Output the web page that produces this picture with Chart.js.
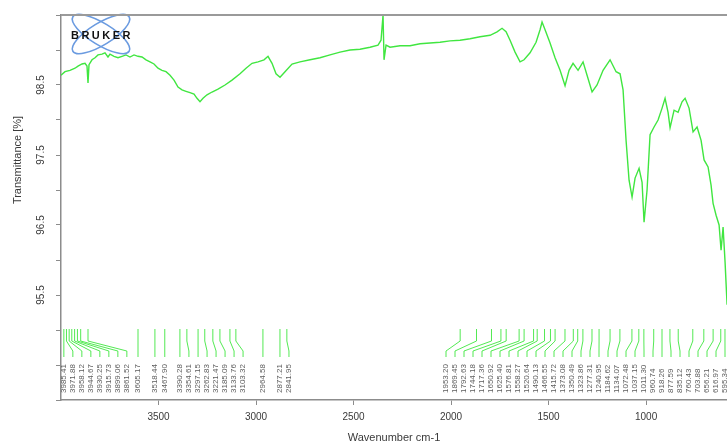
<!DOCTYPE html>
<html>
<head>
<meta charset="utf-8">
<script src="https://cdn.jsdelivr.net/npm/chart.js@4/dist/chart.umd.min.js"></script>
<style>
  html, body { margin: 0; padding: 0; background: #ffffff; overflow: hidden; }
  #wrap { width: 727px; height: 445px; }
</style>
</head>
<body>
<div id="wrap"><canvas id="ir" width="727" height="445"></canvas></div>
<script>
// FT-IR transmittance spectrum (wavenumber in cm-1, transmittance in %)
const wavenumbers = [
  4000.0, 3979.5, 3953.8, 3928.2, 3912.8, 3892.3, 3876.9, 3866.7, 3861.5, 3856.4,
  3841.0, 3825.6, 3810.3, 3789.7, 3774.4, 3759.0, 3748.7, 3728.2, 3707.7, 3687.2,
  3666.7, 3646.2, 3625.6, 3605.1, 3584.6, 3564.1, 3543.6, 3523.1, 3502.6, 3482.1,
  3461.5, 3441.0, 3420.5, 3400.0, 3379.5, 3359.0, 3338.5, 3317.9, 3302.6, 3287.2,
  3271.8, 3251.3, 3225.6, 3194.9, 3159.0, 3123.1, 3082.1, 3051.3, 3020.5, 2989.7,
  2959.0, 2938.5, 2917.9, 2897.4, 2876.9, 2851.3, 2815.4, 2774.4, 2723.1, 2671.8,
  2620.5, 2569.2, 2517.9, 2466.7, 2415.4, 2374.4, 2359.0, 2348.7, 2343.6, 2333.3,
  2312.8, 2261.5, 2210.3, 2159.0, 2107.7, 2056.4, 2005.1, 1953.8, 1902.6, 1851.3,
  1800.0, 1764.1, 1738.5, 1717.9, 1697.4, 1671.8, 1646.2, 1625.6, 1594.9, 1564.1,
  1543.6, 1533.3, 1517.9, 1492.3, 1466.7, 1441.0, 1415.4, 1394.9, 1374.4, 1348.7,
  1323.1, 1302.6, 1276.9, 1251.3, 1220.5, 1184.6, 1153.8, 1133.3, 1117.9, 1102.6,
  1087.2, 1071.8, 1056.4, 1035.9, 1020.5, 1010.3, 994.9, 979.5, 959.0, 938.5,
  917.9, 902.6, 887.2, 876.9, 856.4, 835.9, 815.4, 800.0, 779.5, 759.0,
  738.5, 717.9, 702.6, 682.1, 666.7, 656.4, 641.0, 625.6, 615.4, 605.1,
  594.9, 584.6
];
const transmittance = [
  98.64, 98.69, 98.71, 98.74, 98.77, 98.80, 98.81, 98.77, 98.53, 98.79,
  98.86, 98.89, 98.93, 98.94, 98.96, 98.90, 98.94, 98.91, 98.89, 98.91,
  98.93, 98.90, 98.93, 98.91, 98.90, 98.86, 98.83, 98.80, 98.74, 98.71,
  98.69, 98.64, 98.57, 98.47, 98.43, 98.41, 98.39, 98.37, 98.31, 98.26,
  98.31, 98.36, 98.40, 98.44, 98.50, 98.57, 98.66, 98.74, 98.81, 98.83,
  98.86, 98.91, 98.81, 98.66, 98.61, 98.69, 98.80, 98.83, 98.86, 98.89,
  98.93, 98.97, 99.00, 99.01, 99.04, 99.07, 99.14, 99.50, 98.86, 99.07,
  99.04, 99.06, 99.06, 99.09, 99.10, 99.11, 99.13, 99.14, 99.16, 99.19,
  99.21, 99.26, 99.31, 99.26, 99.14, 98.97, 98.83, 98.86, 98.96, 99.11,
  99.29, 99.40, 99.29, 99.10, 98.89, 98.71, 98.49, 98.71, 98.81, 98.71,
  98.83, 98.64, 98.40, 98.50, 98.71, 98.86, 98.69, 98.66, 98.43, 97.71,
  97.14, 96.90, 97.17, 97.31, 97.11, 96.54, 97.00, 97.79, 97.90, 98.00,
  98.17, 98.31, 98.11, 97.89, 98.14, 98.11, 98.26, 98.31, 98.17, 97.83,
  97.90, 97.71, 97.43, 97.33, 97.07, 96.81, 96.64, 96.50, 96.14, 96.47,
  95.97, 95.36
];

// Picked peak positions (cm-1), labelled below the trace
const peakPositions = [
  3985.41, 3971.88, 3958.12, 3944.67, 3930.25, 3915.73, 3899.06, 3861.52, 3605.17,
  3518.44, 3467.90, 3390.28, 3354.61, 3297.15, 3262.83, 3221.47, 3185.09, 3133.76,
  3103.32, 2964.58, 2877.21, 2841.95,
  1953.20, 1869.45, 1792.63, 1744.18, 1717.36, 1650.92, 1625.40, 1576.81, 1558.27,
  1520.64, 1490.13, 1466.55, 1415.72, 1373.08, 1350.49, 1323.86, 1277.31, 1240.95,
  1184.62, 1134.07, 1072.48, 1037.15, 1011.30, 960.74, 918.26, 877.59, 835.12,
  760.43, 703.88, 656.21, 616.97, 595.34
];

const xTickValues = [3500, 3000, 2500, 2000, 1500, 1000];
const yTickLabels = [98.5, 97.5, 96.5, 95.5];

const TRACE = 'rgb(64, 230, 64)';
const AXIS = '#8c8c8c';
const TEXT = '#3a3a3a';

// Top frame line of the plot
const frameTop = {
  id: 'frameTop',
  afterDraw(chart) {
    const { ctx, chartArea: a } = chart;
    ctx.save();
    ctx.strokeStyle = '#9a9a9a';
    ctx.lineWidth = 2;
    ctx.beginPath();
    ctx.moveTo(a.left, a.top);
    ctx.lineTo(a.right, a.top);
    ctx.stroke();
    ctx.restore();
  }
};

// Vertical y-axis title placed toward the upper half
const yTitle = {
  id: 'yTitle',
  afterDraw(chart) {
    const { ctx } = chart;
    ctx.save();
    ctx.translate(18, 160);
    ctx.rotate(-Math.PI / 2);
    ctx.font = '11px "Liberation Sans", Arial, sans-serif';
    ctx.fillStyle = TEXT;
    ctx.textAlign = 'center';
    ctx.textBaseline = 'middle';
    ctx.fillText('Transmittance [%]', 0, 0);
    ctx.restore();
  }
};

// Instrument logo in the upper-left corner
const logo = {
  id: 'logo',
  afterDatasetsDraw(chart) {
    const { ctx } = chart;
    const cx = 101, cy = 34;
    ctx.save();
    ctx.strokeStyle = '#6b9be0';
    ctx.lineWidth = 1.6;
    [0.55, -0.55].forEach(r => {
      ctx.beginPath();
      ctx.ellipse(cx, cy, 33, 11, r, 0, Math.PI * 2);
      ctx.stroke();
    });
    ctx.font = 'bold 11px "Liberation Sans", Arial, sans-serif';
    ctx.fillStyle = '#111';
    ctx.textAlign = 'center';
    ctx.textBaseline = 'middle';
    if ('letterSpacing' in ctx) ctx.letterSpacing = '2.5px';
    ctx.fillText('BRUKER', cx + 1, cy + 2);
    ctx.restore();
  }
};

// Peak markers with spread-out vertical labels
const peakLabels = {
  id: 'peakLabels',
  afterDatasetsDraw(chart) {
    const { ctx, chartArea: a } = chart;
    const xs = chart.scales.x;
    const px = peakPositions.map(v => xs.getPixelForValue(v));
    const gap = 9;
    const lx = px.slice();
    for (let i = 1; i < lx.length; i++) lx[i] = Math.max(lx[i], lx[i - 1] + gap);
    lx[lx.length - 1] = Math.min(lx[lx.length - 1], a.right - 2);
    for (let i = lx.length - 2; i >= 0; i--) lx[i] = Math.min(lx[i], lx[i + 1] - gap);

    ctx.save();
    ctx.beginPath();
    ctx.rect(a.left, a.top, a.right - a.left, a.bottom - a.top);
    ctx.clip();
    ctx.strokeStyle = TRACE;
    ctx.lineWidth = 0.9;
    for (let i = 0; i < px.length; i++) {
      ctx.beginPath();
      ctx.moveTo(px[i], 329);
      ctx.lineTo(px[i], 341);
      ctx.lineTo(lx[i], 351);
      ctx.lineTo(lx[i], 357);
      ctx.stroke();
    }
    ctx.fillStyle = '#5c5c5c';
    ctx.font = '8px "Liberation Sans", Arial, sans-serif';
    ctx.textAlign = 'left';
    ctx.textBaseline = 'middle';
    for (let i = 0; i < px.length; i++) {
      ctx.save();
      ctx.translate(lx[i], 393);
      ctx.rotate(-Math.PI / 2);
      ctx.fillText(peakPositions[i].toFixed(2), 0, 0);
      ctx.restore();
    }
    ctx.restore();
  }
};

new Chart(document.getElementById('ir'), {
  type: 'line',
  data: {
    datasets: [{
      data: wavenumbers.map((w, i) => ({ x: w, y: transmittance[i] })),
      borderColor: TRACE,
      borderWidth: 1.4,
      pointRadius: 0,
      tension: 0,
      fill: false
    }]
  },
  options: {
    responsive: false,
    animation: false,
    devicePixelRatio: 1,
    layout: { padding: { left: 0, top: 15, right: 0, bottom: 0 } },
    plugins: { legend: { display: false }, tooltip: { enabled: false } },
    scales: {
      x: {
        type: 'linear',
        reverse: true,
        min: 585,
        max: 4000,
        afterBuildTicks(scale) { scale.ticks = xTickValues.map(v => ({ value: v })); },
        afterFit(scale) { scale.height = 45; },
        grid: { drawOnChartArea: false, drawTicks: true, tickLength: 5, color: AXIS },
        border: { display: true, color: AXIS, width: 1.5 },
        ticks: {
          color: TEXT,
          padding: 6,
          maxRotation: 0,
          font: { family: '"Liberation Sans", Arial, sans-serif', size: 10 },
          callback: v => String(v)
        },
        title: {
          display: true,
          text: 'Wavenumber cm-1',
          color: TEXT,
          padding: { top: 2, bottom: 0 },
          font: { family: '"Liberation Sans", Arial, sans-serif', size: 11 }
        }
      },
      y: {
        min: 94,
        max: 99.5,
        afterBuildTicks(scale) {
          const t = [];
          for (let v = 94; v <= 99.5001; v += 0.5) t.push({ value: Math.round(v * 10) / 10 });
          scale.ticks = t;
        },
        afterFit(scale) { scale.width = 61; },
        grid: { drawOnChartArea: false, drawTicks: true, tickLength: 5, color: AXIS },
        border: { display: true, color: AXIS, width: 1.5 },
        ticks: {
          color: TEXT,
          padding: 5,
          minRotation: 90,
          maxRotation: 90,
          crossAlign: 'center',
          font: { family: '"Liberation Sans", Arial, sans-serif', size: 10 },
          callback: v => (yTickLabels.includes(v) ? v.toFixed(1) : '')
        }
      }
    }
  },
  plugins: [frameTop, yTitle, logo, peakLabels]
});
</script>
</body>
</html>
